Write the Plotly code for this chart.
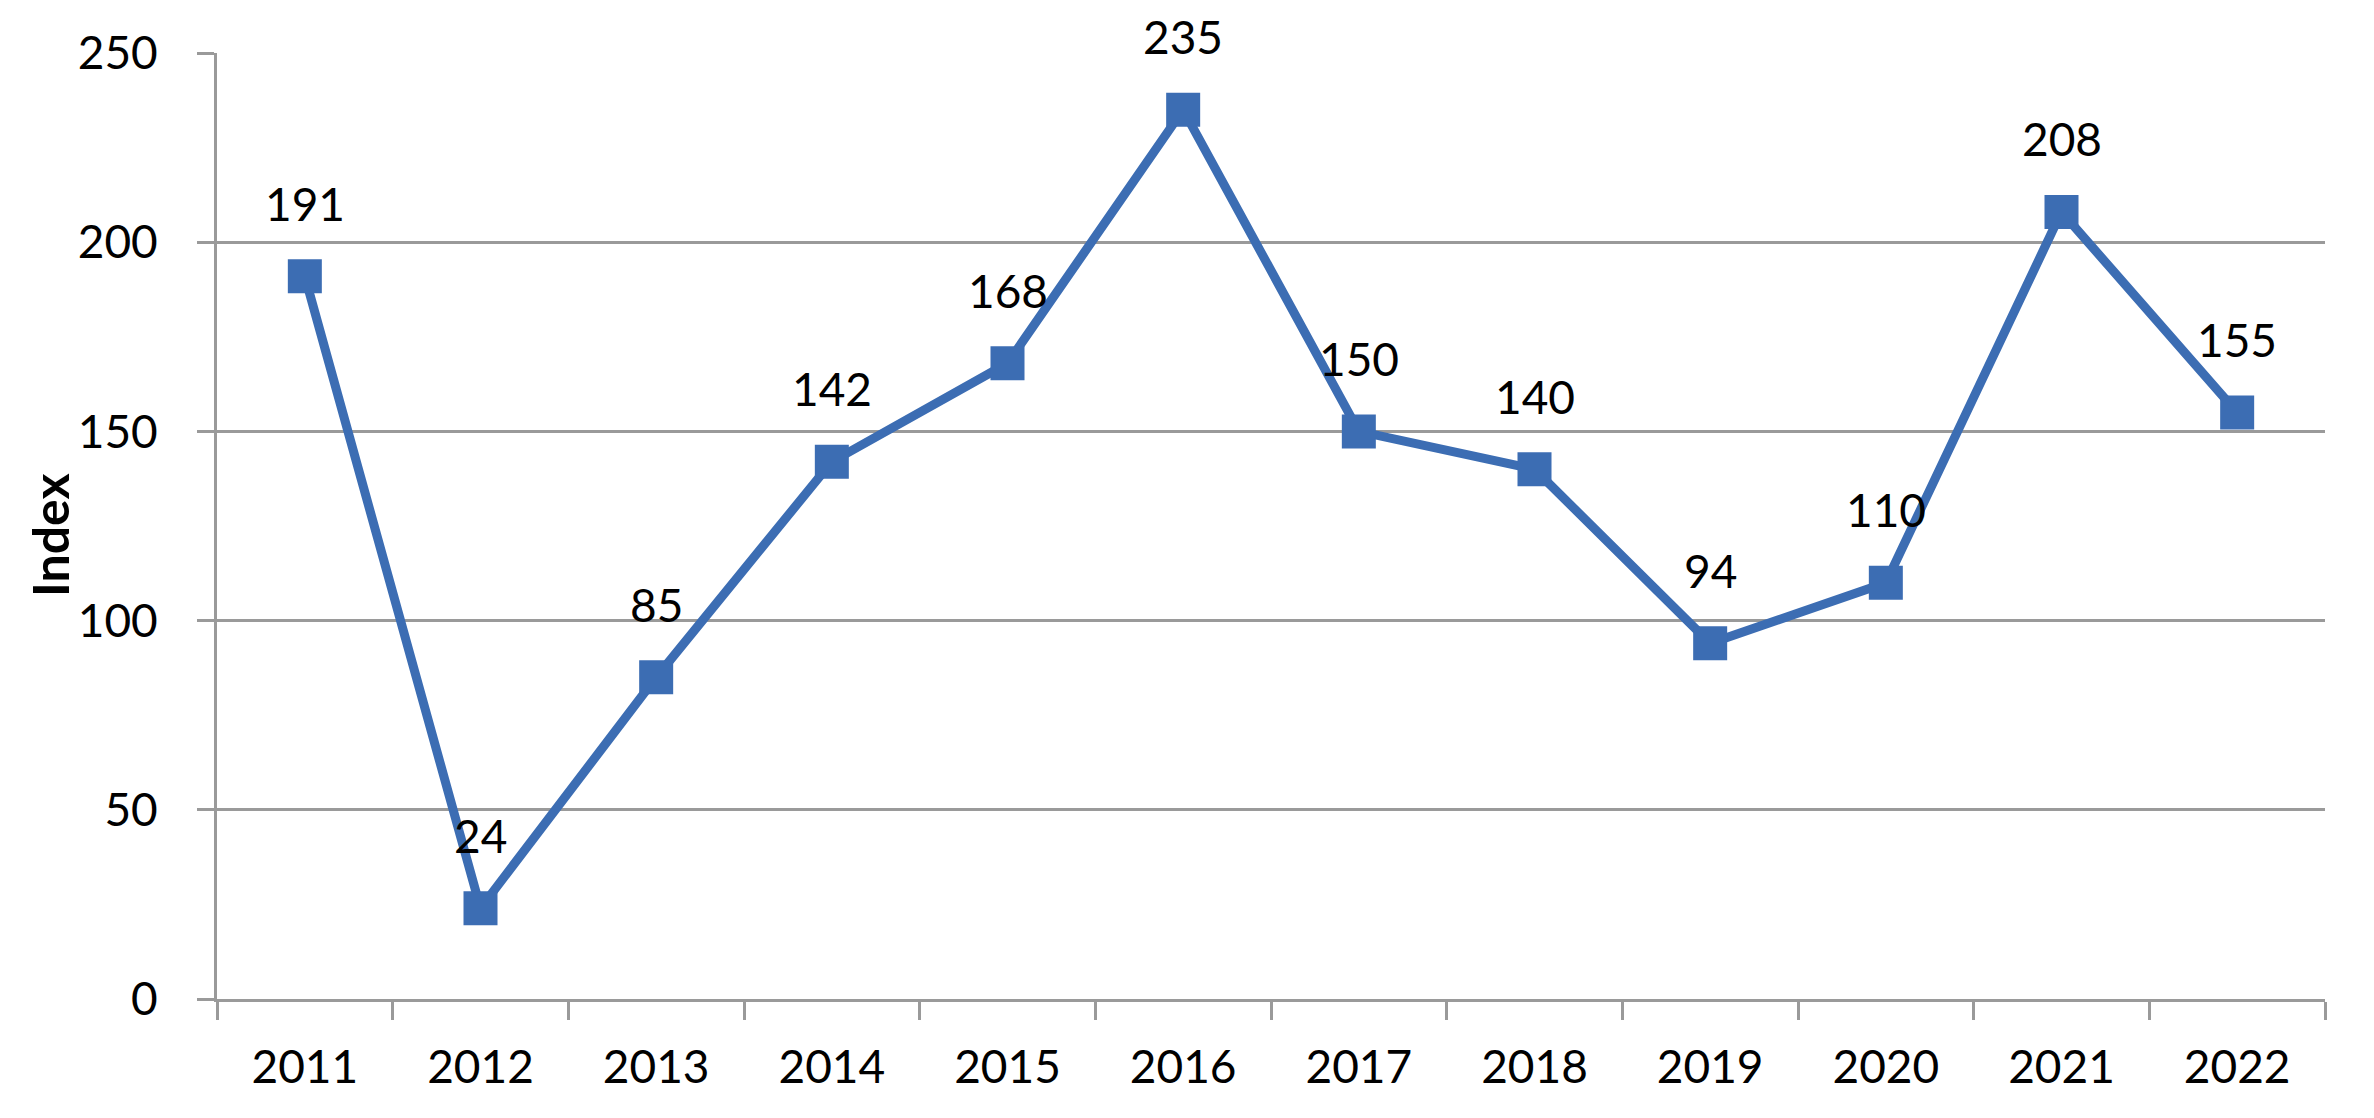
import plotly.graph_objects as go

years = ["2011", "2012", "2013", "2014", "2015", "2016", "2017", "2018", "2019", "2020", "2021", "2022"]
index_values = [191, 24, 85, 142, 168, 235, 150, 140, 94, 110, 208, 155]
y_ticks = [0, 50, 100, 150, 200, 250]

LINE_COLOR = "#3C6DB3"
GRID = "#9A9A9A"
FONT = "Lato"

fig = go.Figure()
fig.add_trace(go.Scatter(
    x=years, y=index_values, mode="lines+markers",
    line=dict(color=LINE_COLOR, width=9),
    marker=dict(symbol="square", size=34, color=LINE_COLOR),
    showlegend=False, hoverinfo="skip",
))
for i, yv in enumerate(index_values):
    fig.add_annotation(x=i, y=yv, xref="x", yref="y", text=str(yv), showarrow=False,
                       yshift=73, font=dict(family=FONT, size=46, color="black"))

fig.add_annotation(text="<b>Index</b>", xref="paper", yref="paper", x=-0.079, y=0.49,
                   textangle=-90, showarrow=False, xanchor="center", yanchor="middle",
                   font=dict(family=FONT, size=50, color="black"))

fig.update_layout(
    width=2374, height=1118,
    margin=dict(l=217, r=49, t=53, b=119),
    paper_bgcolor="white", plot_bgcolor="white",
    font=dict(family=FONT, size=46, color="black"),
    xaxis=dict(type="category", tickson="boundaries", ticks="outside", ticklen=18,
               tickwidth=3, tickcolor=GRID, showline=True, linecolor=GRID, linewidth=3,
               showgrid=False, range=[-0.5, 11.5], ticklabelstandoff=26,
               tickfont=dict(family=FONT, size=46)),
    yaxis=dict(range=[0, 250], tickvals=y_ticks, ticks="outside", ticklen=17, tickwidth=3,
               tickcolor=GRID, showline=True, linecolor=GRID, linewidth=3,
               showgrid=True, gridcolor=GRID, gridwidth=3, zeroline=False,
               ticklabelstandoff=30,
               tickfont=dict(family=FONT, size=46)),
)
fig.write_html("out.html")
